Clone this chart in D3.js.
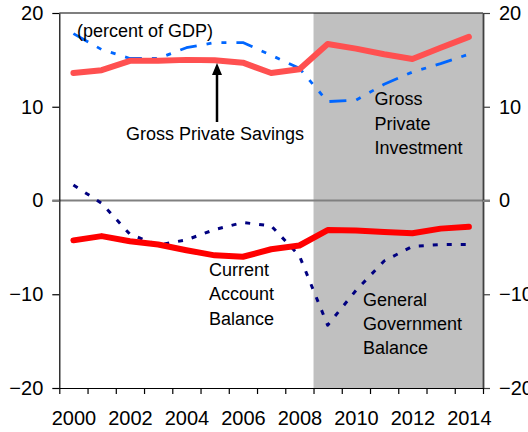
<!DOCTYPE html>
<html><head><meta charset="utf-8">
<script src="https://cdn.jsdelivr.net/npm/d3@7"></script>
<style>
html,body{margin:0;padding:0;background:#fff;}
svg{display:block;font-family:"Liberation Sans",Arial,sans-serif;}
</style></head>
<body><svg id="c" width="528" height="432"></svg>
<script>
const years = [2000,2001,2002,2003,2004,2005,2006,2007,2008,2009,2010,2011,2012,2013,2014];
const grossPrivateSavings = [13.6,13.9,14.9,14.9,15.0,14.95,14.7,13.6,14.0,16.7,16.2,15.6,15.1,16.3,17.45];
const grossPrivateInvestment = [17.8,16.1,15.15,15.15,16.3,16.85,16.85,15.5,14.1,10.55,10.7,12.4,13.7,14.6,15.6];
const currentAccountBalance = [-4.25,-3.8,-4.35,-4.7,-5.3,-5.85,-6.0,-5.2,-4.8,-3.15,-3.2,-3.35,-3.5,-3.0,-2.8];
const generalGovernmentBalance = [1.65,-0.3,-3.6,-4.75,-4.2,-3.1,-2.35,-2.7,-5.9,-13.3,-9.6,-6.45,-4.9,-4.7,-4.7];
const yTicks = [-20,-10,0,10,20];
const xLabelYears = [2000,2002,2004,2006,2008,2010,2012,2014];
const shadeStartYear = 2009;

const svg = d3.select("#c");
const L = 59.3, R = 483, T = 13, B = 388;
const x = d3.scaleLinear().domain([years[0]-0.5, years[years.length-1]+0.5]).range([L, R]);
const y = d3.scaleLinear().domain([-20, 20]).range([B, T]);

// shading
svg.append("rect").attr("x", x(shadeStartYear-0.5)).attr("y", T)
  .attr("width", R - x(shadeStartYear-0.5)).attr("height", B - T).attr("fill", "#c0c0c0");

// zero line
svg.append("line").attr("x1", L-7).attr("x2", R+7).attr("y1", y(0)).attr("y2", y(0))
  .attr("stroke", "#808080").attr("stroke-width", 2);

// top border
svg.append("line").attr("x1", L).attr("x2", R).attr("y1", T).attr("y2", T)
  .attr("stroke", "#000").attr("stroke-width", 1.2);

const fontSize = "20px";
const gl = svg.append("g").attr("transform", `translate(${L},0)`)
  .call(d3.axisLeft(y).tickValues(yTicks).tickSize(7).tickPadding(9).tickSizeOuter(0));
const gr = svg.append("g").attr("transform", `translate(${R},0)`)
  .call(d3.axisRight(y).tickValues(yTicks).tickSize(7).tickPadding(9).tickSizeOuter(0));
const bounds = d3.range(years[0]-0.5, years[years.length-1]+1, 1);
const gb = svg.append("g").attr("transform", `translate(0,${B})`)
  .call(d3.axisBottom(x).tickValues(bounds).tickSize(6).tickFormat("").tickSizeOuter(0));
const gbl = svg.append("g").attr("transform", `translate(0,${B})`)
  .call(d3.axisBottom(x).tickValues(xLabelYears).tickSize(0).tickPadding(23).tickFormat(d3.format("d")));
gbl.select(".domain").remove();

[gl, gr, gb, gbl].forEach(g => {
  g.selectAll("text").attr("font-size", fontSize).attr("font-family", '"Liberation Sans",Arial,sans-serif').attr("fill", "#000");
  g.selectAll("line").attr("stroke", "#000").attr("stroke-width", 1.2);
  g.select(".domain").attr("stroke", "#000").attr("stroke-width", 1.2);
});
gr.select(".domain").attr("stroke", "#404040").attr("stroke-width", 1.8);
gr.selectAll("line").attr("stroke", "#404040");
gl.selectAll(".tick").filter(d => d === 0).select("line").attr("stroke", "#808080").attr("stroke-width", 2);
gr.selectAll(".tick").filter(d => d === 0).select("line").attr("stroke", "#808080").attr("stroke-width", 2);

const line = d3.line().x((d, i) => x(years[i])).y(d => y(d));
function drawSeries(data, color, width, dash) {
  const p = svg.append("path").datum(data).attr("d", line).attr("fill", "none")
    .attr("stroke", color).attr("stroke-width", width).attr("stroke-linejoin", "round");
  if (dash) p.attr("stroke-dasharray", dash).attr("stroke-linecap", "butt");
  else p.attr("stroke-linecap", "round");
}
drawSeries(generalGovernmentBalance, "#000080", 3, "5,9");
drawSeries(grossPrivateInvestment, "#0066ff", 2.8, "17,10,5,10,5,10");
drawSeries(grossPrivateSavings, "#ff5050", 6, null);
drawSeries(currentAccountBalance, "#ff0000", 6, null);

const ann = svg.append("g").attr("font-size", "18px").attr("fill", "#000");
function label(lines, x0, y0, dy) {
  lines.forEach((t, i) => ann.append("text").attr("x", x0).attr("y", y0 + i * dy).text(t));
}
label(["(percent of GDP)"], 77, 37, 0);
label(["Gross Private Savings"], 126, 140, 0);
label(["Gross", "Private", "Investment"], 374.5, 105, 24.5);
label(["Current", "Account", "Balance"], 209, 276, 24.3);
label(["General", "Government", "Balance"], 363, 305.5, 24.3);

svg.append("line").attr("x1", 217).attr("x2", 217).attr("y1", 122).attr("y2", 72)
  .attr("stroke", "#000").attr("stroke-width", 2.5);
svg.append("path").attr("d", "M217,63 L222,75 L212,75 Z").attr("fill", "#000");
</script></body></html>
